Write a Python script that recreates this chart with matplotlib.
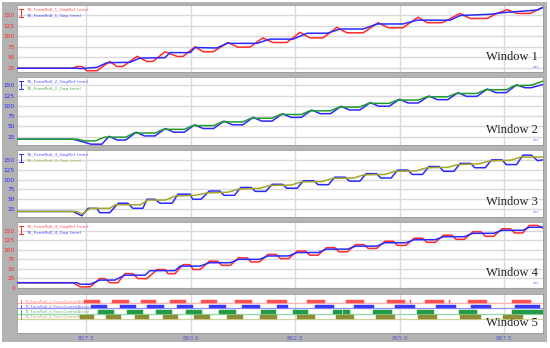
import matplotlib
matplotlib.use("Agg")
import matplotlib.pyplot as plt
from matplotlib.patches import Rectangle

# ---------------- data ----------------
x_ticks = [857.5, 860.0, 862.5, 865.0, 867.5]
x_tick_labels = ["857.5", "860.0", "862.5", "865.0", "867.5"]
y_ticks = [25, 50, 75, 100, 125, 150]
y_ticks4 = [0, 25, 50, 75, 100, 125, 150]

# Window 1
p1_ref_t = [855.85, 857.19, 857.28, 857.40, 857.52, 857.76, 858.07, 858.24, 858.38, 858.72, 858.96, 859.10,
            859.39, 859.68, 859.82, 860.11, 860.30, 860.54, 860.90, 861.13, 861.42, 861.73, 861.97, 862.30,
            862.62, 862.86, 863.17, 863.50, 863.74, 864.13, 864.49, 864.73, 865.08, 865.44, 865.66, 866.02,
            866.45, 866.69, 867.09, 867.33, 867.57, 867.81, 868.12, 868.41]
p1_ref_v = [24, 24, 28, 28, 18, 18, 40, 28, 28, 52, 40, 40, 63, 52, 52, 75, 63, 63, 85, 74, 74, 96, 85, 85,
            109, 96, 96, 121, 108, 108, 132, 120, 120, 145, 132, 132, 154, 142, 142, 154, 163, 154, 154, 168]
p1_gap_t = [855.85, 857.28, 857.36, 857.76, 858.0, 858.55, 858.79, 859.39, 859.51, 859.99, 860.11, 860.63,
            860.87, 861.59, 861.90, 862.45, 862.79, 863.27, 863.58, 864.13, 864.46, 865.08, 865.42, 866.21,
            866.45, 867.17, 867.48, 868.29, 868.43]
p1_gap_v = [24, 24, 23, 26, 37, 38, 48, 49, 61, 61, 73, 72, 83, 83, 93, 93, 107, 107, 117, 117, 129, 129,
            138, 138, 149, 152, 156, 162, 168]

# Window 2
p2_ref_t = [855.85, 857.19, 857.45, 857.62, 857.88, 858.05, 858.25, 858.45, 858.70, 858.90, 859.15, 859.40,
            859.60, 859.85, 860.10, 860.30, 860.55, 860.80, 861.00, 861.25, 861.50, 861.70, 861.95, 862.20,
            862.40, 862.65, 862.90, 863.10, 863.35, 863.60, 863.80, 864.05, 864.30, 864.50, 864.75, 865.00,
            865.20, 865.45, 865.70, 865.90, 866.15, 866.40, 866.60, 866.85, 867.10, 867.30, 867.55, 867.80,
            868.00, 868.15, 868.43]
p2_ref_v = [19, 19, 12, 7, 7, 26, 17, 17, 36, 27, 27, 45, 36, 36, 54, 45, 45, 63, 54, 54, 72, 63, 63, 81,
            72, 72, 90, 81, 81, 99, 90, 90, 108, 99, 99, 116, 107, 107, 124, 115, 115, 132, 123, 123, 141,
            132, 132, 151, 144, 144, 152]
p2_gap_t = [855.85, 857.28, 857.48, 857.72, 857.95, 858.45, 858.65, 859.15, 859.35, 859.85, 860.05, 860.55,
            860.75, 861.25, 861.45, 861.95, 862.15, 862.65, 862.85, 863.35, 863.55, 864.05, 864.25, 864.75,
            864.95, 865.45, 865.65, 866.15, 866.35, 866.85, 867.05, 867.55, 867.75, 868.15, 868.43]
p2_gap_v = [19, 19, 15, 15, 24, 24, 34, 34, 43, 43, 52, 52, 61, 61, 70, 70, 79, 79, 88, 88, 97, 97, 106,
            106, 114, 114, 122, 122, 130, 130, 139, 139, 149, 150, 160]

# Window 3
p3_ref_t = [855.85, 857.19, 857.40, 857.55, 857.76, 857.83, 858.07, 858.27, 858.50, 858.62, 858.86, 858.96,
            859.15, 859.27, 859.56, 859.70, 859.99, 860.05, 860.25, 860.45, 860.70, 860.80, 861.05, 861.20,
            861.45, 861.55, 861.80, 861.95, 862.20, 862.30, 862.55, 862.70, 862.95, 863.05, 863.30, 863.45,
            863.70, 863.80, 864.05, 864.20, 864.45, 864.55, 864.80, 864.95, 865.20, 865.30, 865.55, 865.70,
            865.95, 866.05, 866.30, 866.45, 866.70, 866.80, 867.05, 867.20, 867.45, 867.55, 867.80, 867.95,
            868.15, 868.30, 868.43]
p3_ref_v = [19, 19, 8, 27, 27, 16, 16, 40, 40, 27, 27, 50, 50, 40, 40, 63, 63, 50, 50, 71, 71, 60, 60, 80,
            80, 70, 70, 88, 88, 78, 78, 97, 97, 87, 87, 106, 106, 96, 96, 115, 115, 104, 104, 124, 124, 113,
            113, 133, 133, 121, 121, 141, 141, 130, 130, 150, 150, 138, 138, 162, 162, 148, 150]
p3_gap_t = [855.85, 857.28, 857.40, 857.60, 858.07, 858.20, 858.80, 858.98, 859.40, 859.63, 860.10, 860.40,
            860.90, 861.15, 861.65, 861.90, 862.40, 862.65, 863.15, 863.40, 863.90, 864.15, 864.65, 864.90,
            865.40, 865.65, 866.15, 866.40, 866.90, 867.15, 867.65, 867.90, 868.43]
p3_gap_v = [19, 19, 12, 27, 27, 36, 36, 48, 48, 58, 60, 66, 68, 76, 78, 85, 86, 94, 95, 103, 104, 112, 113,
            121, 122, 130, 131, 138, 140, 147, 149, 157, 157]

# Window 4
p4_ref_t = [855.85, 857.19, 857.36, 857.60, 857.83, 857.95, 858.07, 858.26, 858.43, 858.62, 858.74, 858.96,
            859.20, 859.39, 859.46, 859.63, 859.82, 859.99, 860.06, 860.23, 860.45, 860.65, 860.75, 860.95,
            861.15, 861.35, 861.45, 861.65, 861.85, 862.05, 862.15, 862.35, 862.55, 862.75, 862.85, 863.05,
            863.25, 863.45, 863.55, 863.75, 863.95, 864.15, 864.25, 864.45, 864.65, 864.85, 864.95, 865.15,
            865.35, 865.55, 865.65, 865.85, 866.05, 866.25, 866.35, 866.55, 866.75, 866.95, 867.05, 867.25,
            867.45, 867.65, 867.75, 867.95, 868.10, 868.30, 868.43]
p4_ref_v = [13, 13, 2, 2, 24, 24, 13, 13, 37, 37, 24, 24, 48, 48, 37, 37, 61, 61, 48, 48, 70, 70, 59, 59,
            79, 79, 68, 68, 88, 88, 77, 77, 97, 97, 86, 86, 106, 106, 95, 95, 114, 114, 104, 104, 123, 123,
            112, 112, 131, 131, 120, 120, 139, 139, 128, 128, 148, 148, 136, 136, 156, 156, 145, 145, 165,
            165, 158]
p4_gap_t = [855.85, 857.28, 857.36, 857.60, 857.83, 858.19, 858.43, 858.91, 859.03, 859.63, 859.75, 860.23,
            860.45, 860.95, 861.15, 861.65, 861.85, 862.35, 862.55, 863.05, 863.25, 863.75, 863.95, 864.45,
            864.65, 865.15, 865.35, 865.85, 866.05, 866.55, 866.75, 867.25, 867.45, 867.95, 868.10, 868.43]
p4_gap_v = [13, 13, 9, 9, 20, 20, 33, 33, 45, 45, 57, 57, 66, 66, 75, 75, 84, 84, 93, 93, 102, 102, 110,
            110, 119, 119, 127, 127, 135, 135, 144, 144, 152, 152, 160, 160]

# Window 5 : active intervals (start, end) in seconds
fc1_on = [(857.45, 857.84), (858.12, 858.52), (858.81, 859.17), (859.50, 859.88), (860.24, 860.63),
          (861.07, 861.46), (861.82, 862.31), (862.79, 863.22), (863.73, 864.16), (864.69, 865.12),
          (865.24, 865.27), (865.61, 866.07), (866.17, 866.21), (866.63, 867.09), (867.68, 868.14)]
fc2_on = [(857.62, 858.00), (858.31, 858.70), (858.96, 859.36), (859.67, 860.05), (860.43, 860.84),
          (861.22, 861.67), (862.08, 862.33), (862.97, 863.43), (863.90, 864.40), (864.88, 865.38),
          (865.86, 866.36), (866.71, 867.19), (867.76, 868.36)]
fc3_on = [(857.78, 858.17), (858.48, 858.86), (859.17, 859.55), (859.89, 860.27), (860.69, 861.09),
          (861.69, 862.05), (862.46, 862.82), (863.40, 863.63), (863.65, 863.81), (864.36, 864.81),
          (865.41, 865.82), (866.41, 866.84), (867.70, 868.43)]
fc4_on = [(857.35, 857.69), (857.97, 858.33), (858.67, 859.00), (859.34, 859.70), (860.08, 860.46),
          (860.87, 861.26), (861.66, 862.07), (862.55, 862.98), (863.48, 863.91), (864.44, 864.89),
          (865.44, 865.89), (866.45, 866.95), (867.48, 867.96)]

# ---------------- style ----------------
RED = "#ff2a2a"
BLUE = "#2a2aff"
GREEN = "#1f9a2f"
OLIVE = "#a5a52a"
GRID = "#d9d9d9"
BG_GRAY = "#b3b3b3"
XLIM = (855.85, 868.43)

fig = plt.figure(figsize=(5.5, 3.48), dpi=100, facecolor="white")
fig.patches.append(Rectangle((2 / 550, 1 - 342 / 348), 545 / 550, 340 / 348, transform=fig.transFigure,
                             facecolor=BG_GRAY, edgecolor="none", zorder=-10))

L, R = 17 / 550, 543 / 550
W = R - L
H = 348.0
boxes = [(5, 72), (77, 145), (150, 217), (222, 288), (294, 333)]
axes = []
for top, bot in boxes:
    ax = fig.add_axes([L, 1 - bot / H, W, (bot - top) / H])
    axes.append(ax)

ylims = [(15, 174), (5, 170), (5, 175), (-1, 174)]
panels = [
    (p1_ref_t, p1_ref_v, RED, p1_gap_t, p1_gap_v, BLUE, RED, "T6_FormRoll_1_GapRef (mm)", "T6_FormRoll_1_Gap (mm)"),
    (p2_ref_t, p2_ref_v, BLUE, p2_gap_t, p2_gap_v, GREEN, BLUE, "T6_FormRoll_2_GapRef (mm)", "T6_FormRoll_2_Gap (mm)"),
    (p3_ref_t, p3_ref_v, BLUE, p3_gap_t, p3_gap_v, OLIVE, BLUE, "T6_FormRoll_3_GapRef (mm)", "T6_FormRoll_3_Gap (mm)"),
    (p4_ref_t, p4_ref_v, RED, p4_gap_t, p4_gap_v, BLUE, RED, "T6_FormRoll_4_GapRef (mm)", "T6_FormRoll_4_Gap (mm)"),
]


def legend_bracket(ax, y_top, y_bot, color):
    x0 = 0.0075
    ax.plot([x0, x0], [y_top, y_bot], color=color, lw=0.7, transform=ax.transAxes, clip_on=False)
    ax.plot([x0 - 0.003, x0 + 0.003], [y_top, y_top], color=color, lw=0.7, transform=ax.transAxes)
    ax.plot([x0 - 0.003, x0 + 0.003], [y_bot, y_bot], color=color, lw=0.7, transform=ax.transAxes)


for i, ax in enumerate(axes):
    ax.set_facecolor("white")
    ax.set_xlim(*XLIM)
    ax.set_xticks(x_ticks)
    for s in ax.spines.values():
        s.set_color("#9a9a9a")
        s.set_linewidth(0.6)
    ax.grid(True, axis="x", color=GRID, lw=1.0)
    ax.set_axisbelow(True)
    ax.tick_params(axis="both", length=0, pad=1.5, labelsize=4.2)
    if i < 4:
        ax.set_xticklabels([])
    else:
        ax.set_xticklabels(x_tick_labels, color="#5a5ad0", fontsize=4.2)
        ax.tick_params(axis="x", pad=2.5)
    ax.text(0.99, 0.13 if i < 4 else 0.1, "Window %d" % (i + 1), transform=ax.transAxes,
            ha="right", va="bottom", fontsize=9, family="Liberation Serif", color="#222222")

for i, (rt, rv, rc, gt, gv, gc, tick_c, lab1, lab2) in enumerate(panels):
    ax = axes[i]
    ax.set_ylim(*ylims[i])
    ax.set_yticks(y_ticks4 if i == 3 else y_ticks)
    ax.tick_params(axis="y", colors=tick_c, labelsize=4.2)
    ax.grid(True, axis="y", color=GRID, lw=1.0)
    ax.plot(rt, rv, color=rc, lw=1.1, zorder=3)
    ax.plot(gt, gv, color=gc, lw=1.1, zorder=3)
    ax.text(0.018, 0.95, lab1, transform=ax.transAxes, fontsize=3.2, color=rc, va="top", ha="left", alpha=0.8)
    ax.text(0.018, 0.86, lab2, transform=ax.transAxes, fontsize=3.2, color=gc, va="top", ha="left", alpha=0.8)
    legend_bracket(ax, 0.935, 0.82, rc)
    ax.text(0.993, 0.04, "sec", transform=ax.transAxes, fontsize=2.8, color="#7070ff", ha="right", va="bottom")

# Window 5
ax5 = axes[4]
ax5.set_ylim(0, 10)
ax5.set_yticks([])
rows = [
    (fc1_on, "#ff4f4f", "#ffb0b0", 7.6, "T6_FormRoll_1_ForceControlActive"),
    (fc2_on, "#3a3aff", "#8f8fff", 6.3, "T6_FormRoll_2_ForceControlActive"),
    (fc3_on, "#229a47", "#8fdca8", 5.0, "T6_FormRoll_3_ForceControlActive"),
    (fc4_on, "#8d8d35", "#d2d29a", 3.7, "T6_FormRoll_4_ForceControlActive"),
]
for on, c_on, c_base, base, lab in rows:
    ax5.axhline(base, color=c_base, lw=0.9, zorder=2)
    for s, e in on:
        ax5.add_patch(Rectangle((s, base), e - s, 0.9, facecolor=c_on, edgecolor=c_on, lw=0.3, zorder=3))
    ax5.text(856.05, base + 0.12, lab, fontsize=2.7, color=c_on, va="bottom", ha="left", alpha=0.7, zorder=4)
    ax5.plot([855.95, 855.95], [base, base + 0.9], color=c_on, lw=0.6)

fig.savefig("out.png", dpi=100, facecolor="white")
